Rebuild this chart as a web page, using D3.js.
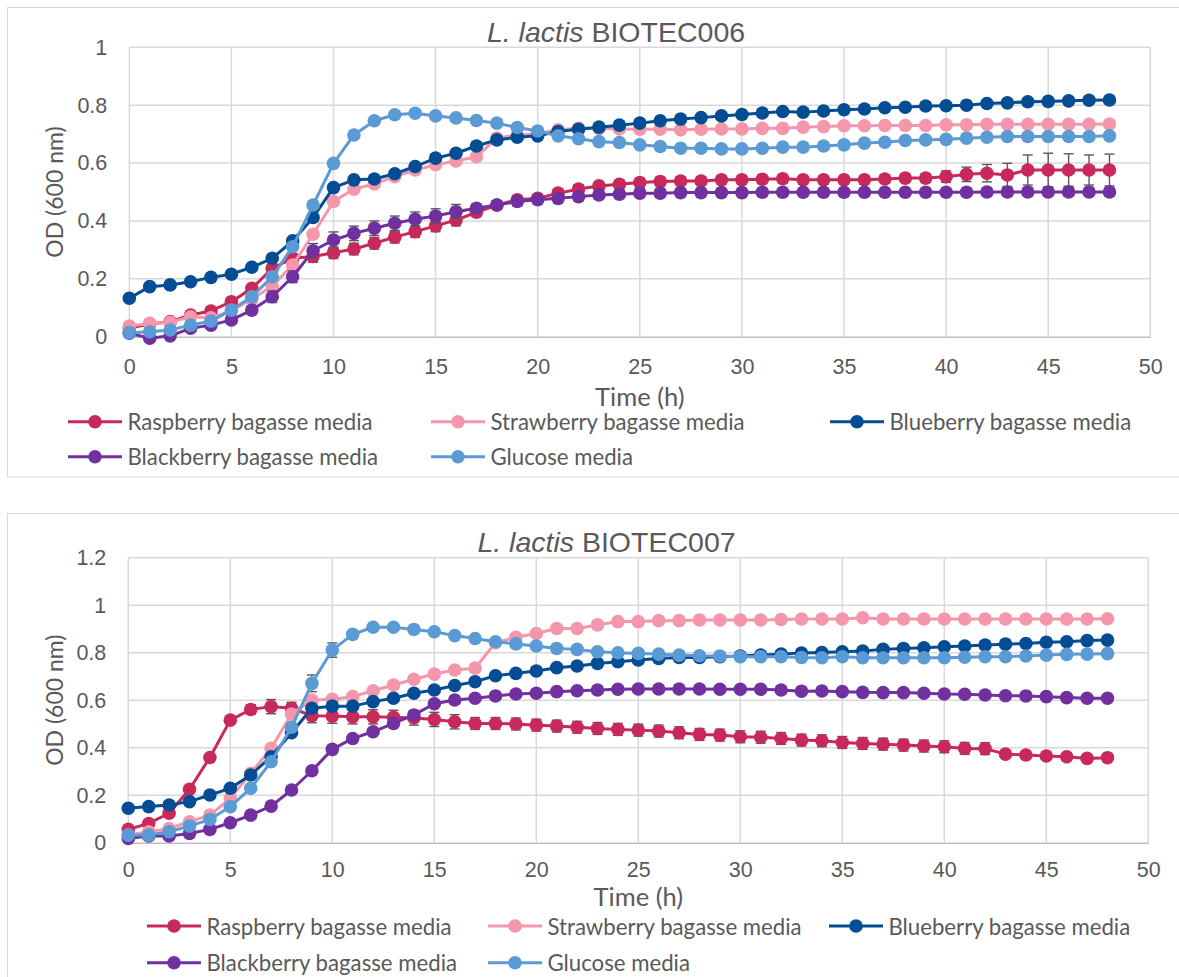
<!DOCTYPE html>
<html>
<head>
<meta charset="utf-8">
<script src="https://cdn.jsdelivr.net/npm/d3@7"></script>
<style>
  body { margin: 0; background: #fff; }
  svg { display: block; font-family: Lato, "Open Sans", sans-serif; }
</style>
</head>
<body>
<svg id="chart" width="1179" height="977"></svg>
<script>
// Sampling times (h)
const hours = [0,1,2,3,4,5,6,7,8,9,10,11,12,13,14,15,16,17,18,19,20,21,22,23,24,
               25,26,27,28,29,30,31,32,33,34,35,36,37,38,39,40,41,42,43,44,45,46,47,48];

const seriesNames = ["Raspberry bagasse media", "Strawberry bagasse media", "Blueberry bagasse media",
                     "Blackberry bagasse media", "Glucose media"];
const seriesColors = ["#C8285A", "#F497AC", "#044C94", "#7030A0", "#5B9BD5"];

const xTicks = [0,5,10,15,20,25,30,35,40,45,50];
const yTicks006 = [0,0.2,0.4,0.6,0.8,1];
const yTicks007 = [0,0.2,0.4,0.6,0.8,1,1.2];

// ---- L. lactis BIOTEC006: OD600 ----
const raspberry006 = [0.030,0.044,0.052,0.075,0.089,0.121,0.167,0.236,0.271,0.277,0.290,0.303,0.323,0.344,0.363,0.383,0.403,0.430,0.455,0.473,
  0.478,0.496,0.510,0.521,0.527,0.533,0.536,0.538,0.538,0.542,0.542,0.544,0.546,0.542,0.542,0.542,0.542,0.545,0.548,0.548,
  0.553,0.561,0.565,0.559,0.576,0.576,0.576,0.576,0.576];
const strawberry006 = [0.037,0.046,0.050,0.069,0.065,0.090,0.130,0.175,0.248,0.354,0.467,0.510,0.528,0.553,0.576,0.594,0.607,0.622,0.686,0.697,
  0.701,0.715,0.720,0.720,0.718,0.717,0.717,0.715,0.717,0.718,0.718,0.720,0.720,0.724,0.726,0.729,0.729,0.730,0.730,0.730,
  0.732,0.732,0.734,0.734,0.734,0.734,0.734,0.734,0.735];
const blueberry006 = [0.133,0.173,0.179,0.190,0.205,0.216,0.240,0.271,0.331,0.412,0.515,0.542,0.545,0.563,0.588,0.617,0.634,0.659,0.680,0.689,
  0.694,0.709,0.717,0.724,0.731,0.738,0.746,0.752,0.757,0.763,0.768,0.773,0.778,0.776,0.780,0.784,0.787,0.791,0.793,0.797,
  0.798,0.800,0.806,0.808,0.812,0.813,0.815,0.817,0.818];
const blackberry006 = [0.012,-0.005,0.003,0.029,0.040,0.058,0.092,0.138,0.207,0.297,0.334,0.357,0.375,0.392,0.406,0.417,0.432,0.444,0.455,0.467,
  0.473,0.478,0.484,0.490,0.492,0.496,0.496,0.498,0.498,0.498,0.498,0.499,0.499,0.499,0.499,0.499,0.499,0.499,0.499,0.499,
  0.499,0.499,0.500,0.500,0.500,0.500,0.500,0.500,0.500];
const glucose006 = [0.014,0.017,0.023,0.040,0.054,0.092,0.138,0.207,0.311,0.455,0.599,0.697,0.746,0.767,0.772,0.763,0.756,0.747,0.738,0.723,
  0.711,0.694,0.684,0.674,0.671,0.663,0.657,0.651,0.651,0.649,0.649,0.651,0.655,0.655,0.659,0.663,0.669,0.672,0.678,0.680,
  0.682,0.686,0.689,0.692,0.692,0.692,0.692,0.692,0.694];
// standard deviations
const raspberry006Sd = [0.005,0.005,0.005,0.005,0.005,0.005,0.005,0.015,0.015,0.020,0.020,0.020,0.020,0.020,0.020,0.020,0.020,0.015,0.015,0.015,
  0.015,0.015,0.015,0.015,0.015,0.015,0.015,0.015,0.015,0.015,0.015,0.015,0.015,0.015,0.015,0.015,0.015,0.015,0.015,0.015,
  0.020,0.025,0.030,0.040,0.052,0.058,0.056,0.052,0.055];
const blackberry006Sd = [0.005,0.005,0.005,0.005,0.005,0.005,0.005,0.020,0.020,0.025,0.028,0.025,0.025,0.025,0.025,0.025,0.025,0.015,0.015,0.015,
  0.015,0.015,0.015,0.015,0.015,0.015,0.015,0.015,0.015,0.015,0.015,0.015,0.015,0.015,0.015,0.015,0.015,0.015,0.015,0.015,
  0.015,0.015,0.015,0.015,0.015,0.015,0.015,0.015,0.015];

// ---- L. lactis BIOTEC007: OD600 ----
const raspberry007 = [0.056,0.081,0.124,0.225,0.359,0.516,0.561,0.573,0.566,0.535,0.533,0.530,0.530,0.528,0.525,0.519,0.509,0.502,0.502,0.500,
  0.495,0.491,0.486,0.481,0.477,0.474,0.470,0.463,0.456,0.453,0.446,0.444,0.439,0.432,0.429,0.422,0.418,0.415,0.411,0.407,
  0.404,0.397,0.396,0.373,0.369,0.365,0.362,0.355,0.358];
const strawberry007 = [0.032,0.046,0.060,0.088,0.116,0.187,0.292,0.397,0.542,0.601,0.604,0.615,0.640,0.664,0.688,0.710,0.727,0.735,0.842,0.865,
  0.881,0.902,0.902,0.917,0.931,0.931,0.935,0.935,0.938,0.938,0.938,0.938,0.940,0.942,0.942,0.942,0.947,0.942,0.942,0.942,
  0.942,0.942,0.942,0.942,0.942,0.942,0.942,0.942,0.943];
const blueberry007 = [0.145,0.152,0.159,0.173,0.201,0.229,0.285,0.362,0.463,0.566,0.575,0.575,0.594,0.608,0.629,0.643,0.662,0.678,0.703,0.713,
  0.723,0.737,0.744,0.755,0.762,0.769,0.776,0.780,0.780,0.783,0.786,0.790,0.794,0.799,0.801,0.804,0.807,0.814,0.818,0.821,
  0.825,0.828,0.832,0.836,0.839,0.844,0.846,0.851,0.853];
const blackberry007 = [0.018,0.028,0.028,0.039,0.056,0.084,0.116,0.154,0.222,0.303,0.393,0.439,0.467,0.502,0.538,0.585,0.601,0.608,0.618,0.626,
  0.629,0.636,0.640,0.643,0.646,0.647,0.647,0.647,0.647,0.646,0.646,0.646,0.643,0.638,0.639,0.636,0.633,0.632,0.632,0.629,
  0.626,0.625,0.622,0.619,0.618,0.615,0.611,0.608,0.608];
const glucose007 = [0.032,0.032,0.046,0.070,0.098,0.152,0.229,0.341,0.486,0.671,0.811,0.877,0.907,0.907,0.898,0.888,0.872,0.860,0.846,0.837,
  0.828,0.818,0.814,0.804,0.800,0.797,0.794,0.790,0.787,0.786,0.783,0.783,0.783,0.780,0.779,0.783,0.779,0.779,0.779,0.779,
  0.779,0.781,0.783,0.783,0.786,0.790,0.793,0.794,0.796];
// standard deviations
const raspberry007Sd = [0.010,0.010,0.010,0.010,0.010,0.010,0.020,0.030,0.025,0.030,0.030,0.030,0.030,0.030,0.030,0.030,0.030,0.025,0.025,0.025,
  0.025,0.025,0.025,0.025,0.025,0.025,0.025,0.025,0.025,0.025,0.025,0.025,0.025,0.025,0.025,0.025,0.025,0.025,0.025,0.025,
  0.025,0.025,0.025,0.005,0.005,0.005,0.005,0.005,0.005];
const strawberry007Sd = [0.005,0.005,0.005,0.005,0.005,0.005,0.005,0.005,0.005,0.005,0.005,0.005,0.005,0.005,0.005,0.005,0.005,0.005,0.005,0.005,
  0.005,0.012,0.005,0.005,0.005,0.005,0.005,0.005,0.005,0.005,0.005,0.005,0.005,0.005,0.005,0.005,0.012,0.005,0.005,0.005,
  0.005,0.005,0.005,0.005,0.005,0.005,0.005,0.005,0.005];
const blackberry007Sd = [0.005,0.005,0.005,0.005,0.005,0.005,0.005,0.005,0.005,0.005,0.010,0.010,0.010,0.010,0.012,0.012,0.012,0.012,0.012,0.012,
  0.012,0.012,0.012,0.012,0.012,0.012,0.012,0.012,0.012,0.012,0.012,0.012,0.012,0.012,0.012,0.012,0.012,0.012,0.012,0.012,
  0.012,0.012,0.012,0.005,0.005,0.005,0.005,0.005,0.005];
const glucose007Sd = [0.005,0.005,0.005,0.005,0.005,0.005,0.005,0.005,0.005,0.035,0.030,0.015,0.005,0.005,0.005,0.005,0.005,0.005,0.005,0.005,
  0.005,0.005,0.005,0.005,0.005,0.005,0.005,0.005,0.005,0.005,0.005,0.005,0.005,0.005,0.005,0.005,0.005,0.005,0.005,0.005,
  0.005,0.005,0.005,0.005,0.005,0.005,0.005,0.005,0.005];

const TEXT = "#595959";
const GRID = "#D9D9D9";

const panels = [
  { strain: "BIOTEC006", titleX: 616, titleY: 41.7,
    values: [raspberry006, strawberry006, blueberry006, blackberry006, glucose006],
    sds: [raspberry006Sd, null, null, blackberry006Sd, null],
    yMax: 1, yTicks: yTicks006,
    frame: { x: 7.5, y: 7.5, w: 1300, h: 469.5 },
    plot: { left: 129.3, right: 1150.3, top: 47.3, bottom: 336.7 },
    tickPad: 22, xTitleY: 396, legendCols: [68, 431, 830], legendRows: [421.7, 456.7] },
  { strain: "BIOTEC007", titleX: 606.5, titleY: 551.7,
    values: [raspberry007, strawberry007, blueberry007, blackberry007, glucose007],
    sds: [raspberry007Sd, strawberry007Sd, null, blackberry007Sd, glucose007Sd],
    yMax: 1.2, yTicks: yTicks007,
    frame: { x: 7.5, y: 513.5, w: 1300, h: 600 },
    plot: { left: 128.3, right: 1148.3, top: 557.7, bottom: 842.7 },
    tickPad: 19, xTitleY: 896, legendCols: [147, 488, 829], legendRows: [926, 962.7] }
];

const svg = d3.select("#chart");
const fmt = d => d3.format("~g")(d);

panels.forEach(p => {
  const g = svg.append("g");

  g.append("rect")
    .attr("x", p.frame.x).attr("y", p.frame.y)
    .attr("width", p.frame.w).attr("height", p.frame.h)
    .attr("fill", "#fff").attr("stroke", GRID).attr("stroke-width", 1);

  const x = d3.scaleLinear().domain([0, 50]).range([p.plot.left, p.plot.right]);
  const y = d3.scaleLinear().domain([0, p.yMax]).range([p.plot.bottom, p.plot.top]);

  // gridlines
  g.append("g").selectAll("line").data(p.yTicks.slice(1)).join("line")
    .attr("x1", p.plot.left).attr("x2", p.plot.right)
    .attr("y1", d => y(d)).attr("y2", d => y(d))
    .attr("stroke", GRID).attr("stroke-width", 1.5);
  g.append("g").selectAll("line").data(xTicks).join("line")
    .attr("x1", d => x(d)).attr("x2", d => x(d))
    .attr("y1", p.plot.top).attr("y2", p.plot.bottom)
    .attr("stroke", GRID).attr("stroke-width", 1.5);

  // x axis
  const xAxis = g.append("g").attr("transform", `translate(0,${p.plot.bottom})`)
    .call(d3.axisBottom(x).tickValues(xTicks).tickSize(0).tickPadding(p.tickPad).tickFormat(fmt));
  xAxis.select(".domain").attr("stroke", "#BFBFBF").attr("stroke-width", 1.5);
  xAxis.selectAll("text").attr("fill", TEXT).attr("font-size", 21.5);

  // y axis
  const yAxis = g.append("g").attr("transform", `translate(${p.plot.left},0)`)
    .call(d3.axisLeft(y).tickValues(p.yTicks).tickSize(0).tickPadding(22).tickFormat(fmt));
  yAxis.select(".domain").remove();
  yAxis.selectAll("text").attr("fill", TEXT).attr("font-size", 21.5);

  // axis titles
  g.append("text").attr("x", (p.plot.left + p.plot.right) / 2).attr("y", p.xTitleY)
    .attr("text-anchor", "middle").attr("dominant-baseline", "central")
    .attr("fill", TEXT).attr("font-size", 25.5).text("Time (h)");
  g.append("text")
    .attr("transform", `translate(54,${(p.plot.top + p.plot.bottom) / 2}) rotate(-90)`)
    .attr("text-anchor", "middle").attr("dominant-baseline", "central")
    .attr("fill", TEXT).attr("font-size", 23).text("OD (600 nm)");

  // chart title
  const t = g.append("text").attr("x", p.titleX).attr("y", p.titleY)
    .attr("text-anchor", "middle").attr("fill", TEXT)
    .attr("font-family", "'Liberation Sans', Arial, sans-serif").attr("font-size", 28.5);
  t.append("tspan").attr("font-style", "italic").text("L. lactis");
  t.append("tspan").text(" " + p.strain);

  // series: error bars, line, markers
  const line = d3.line().x((d, i) => x(hours[i])).y(d => y(d));
  p.values.forEach((vals, s) => {
    const sg = g.append("g");
    const sd = p.sds[s];
    if (sd) {
      const eb = sg.append("g").attr("stroke", "#595959").attr("stroke-width", 1.4);
      vals.forEach((v, i) => {
        const cx = x(hours[i]);
        const y1 = y(v + sd[i]), y2 = y(v - sd[i]);
        eb.append("line").attr("x1", cx).attr("x2", cx).attr("y1", y1).attr("y2", y2);
        eb.append("line").attr("x1", cx - 5).attr("x2", cx + 5).attr("y1", y1).attr("y2", y1);
        eb.append("line").attr("x1", cx - 5).attr("x2", cx + 5).attr("y1", y2).attr("y2", y2);
      });
    }
    sg.append("path").datum(vals).attr("d", line)
      .attr("fill", "none").attr("stroke", seriesColors[s]).attr("stroke-width", 3)
      .attr("stroke-linejoin", "round");
    sg.selectAll("circle").data(vals).join("circle")
      .attr("cx", (d, i) => x(hours[i])).attr("cy", d => y(d))
      .attr("r", 6.8).attr("fill", seriesColors[s]);
  });

  // legend
  const slots = [[0, 0], [1, 0], [2, 0], [0, 1], [1, 1]];
  seriesNames.forEach((name, s) => {
    const lx = p.legendCols[slots[s][0]], ly = p.legendRows[slots[s][1]];
    const lg = g.append("g");
    lg.append("line").attr("x1", lx).attr("x2", lx + 54).attr("y1", ly).attr("y2", ly)
      .attr("stroke", seriesColors[s]).attr("stroke-width", 3);
    lg.append("circle").attr("cx", lx + 27).attr("cy", ly).attr("r", 6.8).attr("fill", seriesColors[s]);
    lg.append("text").attr("x", lx + 59.5).attr("y", ly).attr("dominant-baseline", "central")
      .attr("fill", TEXT).attr("font-size", 22.2).text(name);
  });
});
</script>
</body>
</html>
